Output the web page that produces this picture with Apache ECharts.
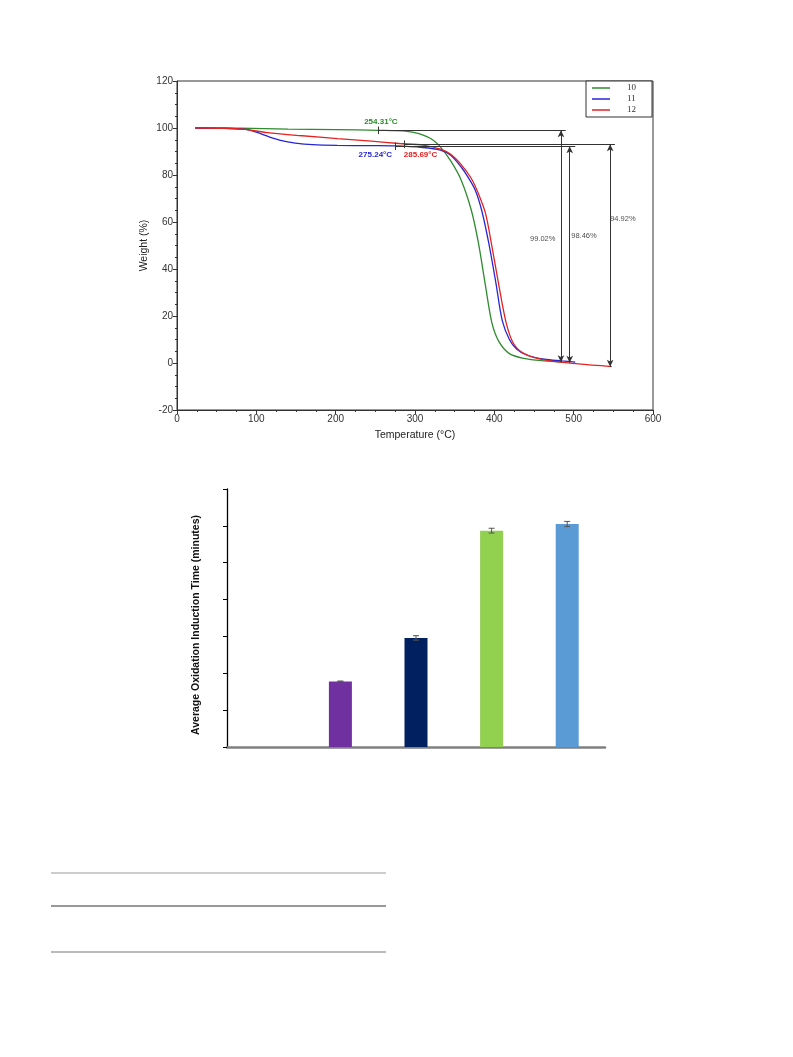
<!DOCTYPE html>
<html>
<head>
<meta charset="utf-8">
<script src="https://cdn.jsdelivr.net/npm/echarts@6/dist/echarts.min.js"></script>
<style>
html,body{margin:0;padding:0;background:#fff;}
#c{width:793px;height:1057px;}
</style>
</head>
<body>
<div id="c"></div>
<script>
// ---------- TGA data (Temperature °C, Weight %) ----------
const tgaNames = ['10', '11', '12'];
const tgaColors = ['#2e8b2e', '#2626d6', '#e52222'];
const curve10 = [[23,100],[80,99.9],[140,99.5],[200,99.3],[254,99.0],[290,98.6],[305,97.6],[315,96.3],[323,94.8],[332,92],[345,86],[358,78],[371,65],[380,51],[389,32.5],[397,17],[406,9],[419,4],[437,2],[463,0.9],[485,0.4]];
const curve11 = [[23,100],[60,99.9],[84,99.5],[97,98.6],[114,96.5],[132,94.6],[149,93.6],[171,92.9],[202,92.6],[245,92.5],[275,92.4],[310,91.7],[332,90.6],[345,88.4],[358,83.5],[367,79],[376,73.5],[384,65],[393,51],[402,34],[410,18],[419,10],[428,6],[441,3.4],[463,1.6],[485,0.9],[502,0.4]];
const curve12 = [[23,100],[60,99.9],[84,99.5],[114,98],[158,96.7],[202,95.5],[245,94.4],[280,93.4],[310,92.7],[332,91],[345,88.8],[358,84.5],[371,78.5],[380,72],[389,63.6],[397,49.5],[406,32.5],[415,17],[424,8.4],[437,4.1],[463,1.3],[506,-0.4],[548,-1.5]];
// annotations
const onsetText = ['254.31°C', '275.24°C', '285.69°C'];
const onsetLabelPos = [[257,102.6],[250,88.8],[307,88.8]];
const onsetPoint = [[254,99.0],[275,92.2],[286,93.1]];
const levelEndX = [490, 502, 552];
const arrowX = [484, 495, 546];
const arrowBottom = [0.3, 0.1, -1.6];
const pctText = ['99.02%', '98.46%', '94.92%'];
const pctPos = [[461,52.8],[513,54],[562,61.3]];

// ---------- Bar chart data ----------
const barCats = ['1', '2', '3', '4', '5'];
const barValues = [0, 1.78, 2.96, 5.87, 6.05];
const barErrors = [0, 0.01, 0.06, 0.065, 0.07];
const barColors = ['#ffffff', '#7030A0', '#002060', '#92D050', '#5B9BD5'];

const chart = echarts.init(document.getElementById('c'), null, {renderer: 'canvas'});
const curves = [curve10, curve11, curve12];

const tgaSeries = curves.map((d, i) => ({
  name: tgaNames[i], type: 'line', xAxisIndex: 0, yAxisIndex: 0,
  data: d, symbol: 'none', smooth: 0.3,
  lineStyle: {color: tgaColors[i], width: 1.3},
  itemStyle: {color: tgaColors[i]},
  z: 3,
  markPoint: {
    symbol: 'circle', symbolSize: 0, silent: true,
    data: [{coord: onsetLabelPos[i], value: onsetText[i],
      label: {show: true, formatter: onsetText[i], color: tgaColors[i], fontSize: 8, fontWeight: 'bold', fontFamily: 'Liberation Sans', position: 'inside'}}]
  },
  markLine: {
    silent: true, animation: false, symbol: ['none','none'],
    lineStyle: {color: '#333', width: 1, type: 'solid'},
    label: {show: false},
    data: [
      [{coord: onsetPoint[i], symbol: 'none'}, {coord: [levelEndX[i], onsetPoint[i][1]], symbol: 'none'}],
      [{coord: [onsetPoint[i][0], onsetPoint[i][1] - 1.6], symbol: 'none'}, {coord: [onsetPoint[i][0], onsetPoint[i][1] + 1.6], symbol: 'none'}],
      [{coord: [arrowX[i], onsetPoint[i][1]], symbol: 'arrow', symbolSize: [5,7]}, {coord: [arrowX[i], arrowBottom[i]], symbol: 'arrow', symbolSize: [5,7]}]
    ]
  }
}));

// percent labels on a helper series
tgaSeries.push({
  type: 'scatter', xAxisIndex: 0, yAxisIndex: 0, symbolSize: 0, silent: true,
  data: pctPos.map((p, i) => ({value: p, label: {show: true, formatter: pctText[i], position: 'inside', color: '#222', fontSize: 7.5, fontFamily: 'Liberation Sans'}}))
});

const option = {
  animation: false,
  backgroundColor: '#fff',
  textStyle: {fontFamily: 'Liberation Sans'},
  legend: {
    data: tgaNames, orient: 'vertical', left: 586, top: 81,
    backgroundColor: '#fff',
    borderColor: '#333', borderWidth: 1, borderRadius: 0,
    padding: [2, 2, 2, 6], itemGap: 1,
    icon: 'rect', itemWidth: 18, itemHeight: 1.5,
    textStyle: {fontFamily: 'Liberation Serif', fontSize: 9, color: '#333', lineHeight: 10, padding: [0, 14, 0, 12]}
  },
  grid: [
    {left: 177, top: 81, width: 476, height: 329, show: true, borderColor: '#333', borderWidth: 1, containLabel: false},
    {left: 227, top: 489, width: 378, height: 258, containLabel: false}
  ],
  xAxis: [
    {gridIndex: 0, type: 'value', min: 0, max: 600, interval: 100,
      name: 'Temperature (°C)', nameLocation: 'middle', nameGap: 20,
      nameTextStyle: {fontSize: 10.5, color: '#222'},
      axisLine: {show: true, onZero: false, lineStyle: {color: '#333', width: 1}},
      axisTick: {show: true, length: 4, lineStyle: {color: '#333'}},
      minorTick: {show: true, splitNumber: 4, length: 2, lineStyle: {color: '#333'}},
      axisLabel: {fontSize: 10, color: '#333', margin: 4},
      splitLine: {show: false}},
    {gridIndex: 1, type: 'category', data: barCats,
      axisLine: {show: true, onZero: false, lineStyle: {color: '#808080', width: 2.5}},
      axisTick: {show: false}, axisLabel: {show: false}, splitLine: {show: false}}
  ],
  yAxis: [
    {gridIndex: 0, type: 'value', min: -20, max: 120, interval: 20,
      name: 'Weight (%)', nameLocation: 'middle', nameGap: 27, nameRotate: 90, nameMoveOverlap: false,
      nameTextStyle: {fontSize: 10.5, color: '#222'},
      axisLine: {show: true, onZero: false, lineStyle: {color: '#333', width: 1}},
      axisTick: {show: true, length: 4, lineStyle: {color: '#333'}},
      minorTick: {show: true, splitNumber: 4, length: 2, lineStyle: {color: '#333'}},
      axisLabel: {fontSize: 10, color: '#333', margin: 4},
      splitLine: {show: false}},
    {gridIndex: 1, type: 'value', min: 0, max: 7, interval: 1,
      name: 'Average Oxidation Induction Time (minutes)', nameLocation: 'middle', nameGap: 25, nameRotate: 90,
      nameTextStyle: {fontSize: 10.5, fontWeight: 'bold', color: '#111', padding: [0, 14, 0, 0]},
      axisLine: {show: true, lineStyle: {color: '#000', width: 1.3}},
      axisTick: {show: true, length: 4, lineStyle: {color: '#000', width: 1}},
      axisLabel: {show: false}, splitLine: {show: false}}
  ],
  graphic: [
    {type: 'line', shape: {x1: 51, y1: 873, x2: 386, y2: 873}, style: {stroke: '#bdbdbd', lineWidth: 1.5}},
    {type: 'line', shape: {x1: 51, y1: 906, x2: 386, y2: 906}, style: {stroke: '#333', lineWidth: 1.2}},
    {type: 'line', shape: {x1: 51, y1: 952, x2: 386, y2: 952}, style: {stroke: '#777', lineWidth: 1.2}}
  ],
  series: tgaSeries.concat([
    {type: 'bar', xAxisIndex: 1, yAxisIndex: 1, barWidth: 23,
      data: barValues.map((v, i) => ({value: v, itemStyle: {color: barColors[i]}}))},
    {type: 'custom', xAxisIndex: 1, yAxisIndex: 1, z: 5,
      data: barValues.map((v, i) => [i, v, barErrors[i]]),
      renderItem: function (params, api) {
        const v = api.value(1), e = api.value(2);
        if (!v) return null;
        const x = api.value(0);
        const t = api.coord([x, v + e]);
        const b = api.coord([x, v - e]);
        const hw = 3;
        const st = {stroke: '#555', lineWidth: 1};
        return {type: 'group', children: [
          {type: 'line', shape: {x1: t[0], y1: t[1], x2: b[0], y2: b[1]}, style: st},
          {type: 'line', shape: {x1: t[0]-hw, y1: t[1], x2: t[0]+hw, y2: t[1]}, style: st},
          {type: 'line', shape: {x1: b[0]-hw, y1: b[1], x2: b[0]+hw, y2: b[1]}, style: st}
        ]};
      }}
  ])
};
chart.setOption(option);
</script>
</body>
</html>
